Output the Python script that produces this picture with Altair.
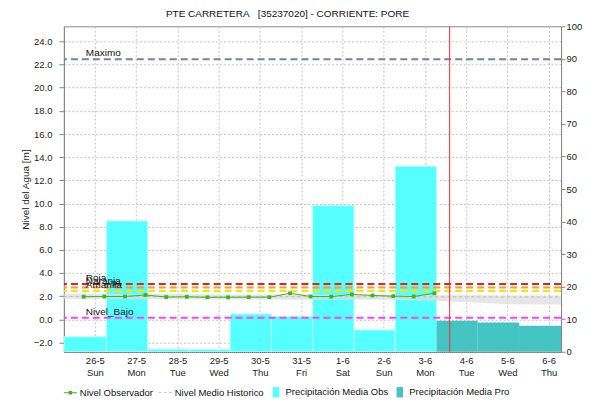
import altair as alt
import pandas as pd
import numpy as np

chart_title = "PTE CARRETERA\u00a0\u00a0\u00a0[35237020] - CORRIENTE: PORE"

# x ticks (days since 26-5)
tick_days = [0, 1, 2, 3, 4, 5, 6, 7, 8, 9, 10, 11]
day_labels = ["26-5", "27-5", "28-5", "29-5", "30-5", "31-5", "1-6", "2-6", "3-6", "4-6", "5-6", "6-6"]
weekday_labels = ["Sun", "Mon", "Tue", "Wed", "Thu", "Fri", "Sat", "Sun", "Mon", "Tue", "Wed", "Thu"]

# observed level (every 12 h)
obs_t = [-0.27, 0.23, 0.73, 1.23, 1.73, 2.23, 2.73, 3.23, 3.73, 4.23, 4.73, 5.23,
         5.73, 6.23, 6.73, 7.23, 7.73, 8.23]
obs_level = [1.95, 1.97, 1.97, 2.10, 1.92, 1.94, 1.90, 1.90, 1.91, 1.91, 2.25, 1.97,
             1.96, 2.15, 2.06, 2.00, 1.97, 2.25]

# historic mean level with band
hist_t = [-0.75, 0, 1, 2, 3, 4, 5, 6, 7, 8, 9, 10, 11.3]
hist_mid = [1.97, 1.97, 1.96, 1.96, 1.95, 1.95, 1.95, 1.95, 1.94, 1.94, 1.93, 1.92, 1.92]
hist_hi = [2.20, 2.20, 2.18, 2.18, 2.15, 2.15, 2.15, 2.12, 2.10, 2.10, 2.08, 2.05, 2.05]
hist_lo = [1.75, 1.75, 1.74, 1.74, 1.72, 1.72, 1.70, 1.70, 1.68, 1.62, 1.50, 1.30, 1.28]

# precipitation (right axis)
precip_start = [-0.75, 0.28, 1.28, 2.28, 3.28, 4.28, 5.28, 6.28, 7.28, 8.28, 9.28, 10.28]
precip_end = [0.28, 1.28, 2.28, 3.28, 4.28, 5.28, 6.28, 7.28, 8.28, 9.28, 10.28, 11.3]
precip_value = [4.6, 40.2, 0.8, 0.7, 11.6, 10.8, 44.9, 6.7, 57.0, 9.5, 9.0, 8.0]
precip_kind = ["Obs"] * 9 + ["Pro"] * 3

# thresholds
thr_name = ["Maximo", "Roja", "Naranja", "Amarilla", "Nivel_Bajo"]
thr_value = [22.45, 3.05, 2.75, 2.45, 0.13]
thr_color = ["#7481A8", "#E8201E", "#FF9A1E", "#F5E600", "#FF40FF"]

now_t = [8.6]

legend_names = ["Nivel Observador", "Nivel Medio Historico", "Precipitación Media Obs", "Precipitación Media Pro"]
legend_colors = ["#3CB521", "#BBBBBB", "#55FFFF", "#45C4C4"]
legend_shapes = [
    "M-1,-0.08H1V0.08H-1Z M-0.27,-0.27H0.27V0.27H-0.27Z",
    "M-1,-0.06H-0.6V0.06H-1Z M-0.2,-0.06H0.2V0.06H-0.2Z M0.6,-0.06H1V0.06H0.6Z",
    "M-0.5,-0.8H0.5V0.8H-0.5Z",
    "M-0.5,-0.8H0.5V0.8H-0.5Z",
]

df_obs = pd.DataFrame({"t": obs_t, "level": obs_level})
df_hist = pd.DataFrame({"t": hist_t, "mid": hist_mid, "hi": hist_hi, "lo": hist_lo})
df_pr = pd.DataFrame({"s": precip_start, "e": precip_end, "v": precip_value, "k": precip_kind})
df_thr = pd.DataFrame({"name": thr_name, "v": thr_value, "c": thr_color})
df_now = pd.DataFrame({"t": now_t})
df_leg = pd.DataFrame({"serie": legend_names, "t": [np.nan] * 4, "level": [np.nan] * 4})

FONT = "Liberation Sans"
label_expr = "[" + ",".join("['%s','%s']" % (d, w) for d, w in zip(day_labels, weekday_labels)) + "][datum.value]"

xscale = alt.Scale(domain=[-0.75, 11.3], nice=False, zero=False)
xaxis = alt.Axis(values=tick_days, labelExpr=label_expr, title=None, grid=True,
                 gridDash=[2, 2], gridColor="#C4C4C4", ticks=False, domainColor="#555555",
                 domainDash=[1, 1], labelFontSize=9.5, labelPadding=4, labelLineHeight=12,
                 labelColor="#222222")
yscale = alt.Scale(domain=[-2.8, 25.3], nice=False, zero=False)
yaxis = alt.Axis(values=list(range(-2, 25, 2)), format=".1f", title="Nivel del Agua [m]",
                 grid=True, gridDash=[2, 2], gridColor="#C4C4C4", tickSize=5,
                 labelPadding=7, titlePadding=3, domainColor="#888888", tickColor="#888888",
                 labelFontSize=9.5, titleFontSize=10, titleFontWeight="normal",
                 labelColor="#222222", titleColor="#222222")


def X(field):
    return alt.X(field, type="quantitative", scale=xscale, axis=xaxis)


def Y(field):
    return alt.Y(field, type="quantitative", scale=yscale, axis=yaxis)


# precipitation bars (right axis)
rscale = alt.Scale(domain=[0, 100], nice=False, zero=True)
raxis = alt.Axis(orient="right", values=list(range(0, 101, 10)), title=None, grid=False,
                 tickSize=4, labelPadding=1, domainColor="#888888", tickColor="#888888",
                 labelFontSize=9.5, labelColor="#222222")

bars_obs = alt.Chart(df_pr).transform_filter(alt.datum.k == "Obs").mark_rect(
    color="#55FFFF", stroke="#B5FFFF", strokeWidth=1, clip=True
).encode(x=X("s"), x2="e", y=alt.Y("v:Q", scale=rscale, axis=raxis), y2=alt.datum(0))
bars_pro = alt.Chart(df_pr).transform_filter(alt.datum.k == "Pro").mark_rect(
    color="#45C4C4", clip=True
).encode(x=X("s"), x2="e", y=alt.Y("v:Q", scale=rscale, axis=raxis), y2=alt.datum(0))
bars = alt.layer(bars_obs, bars_pro)

band = alt.Chart(df_hist).mark_area(color="#DEDEDE", opacity=0.75).encode(
    x=X("t"), y=Y("lo"), y2="hi")
hist_line = alt.Chart(df_hist).mark_line(color="#BBBBBB", strokeDash=[3, 3], strokeWidth=1).encode(
    x=X("t"), y=Y("mid"))
rules = alt.Chart(df_thr).mark_rule(strokeDash=[7, 4], strokeWidth=2).encode(
    y=Y("v"), color=alt.Color("c:N", scale=None))
texts = alt.Chart(df_thr).mark_text(align="left", baseline="bottom", dy=-1, fontSize=10,
                                    font=FONT, color="#111111").encode(
    x=alt.value(22), y=Y("v"), text="name:N")
now_rule = alt.Chart(df_now).mark_rule(color="#FF2A2A", strokeWidth=1).encode(x=X("t"))
obs_line = alt.Chart(df_obs).mark_line(color="#3CB521", strokeWidth=1).encode(x=X("t"), y=Y("level"))
obs_pts = alt.Chart(df_obs).mark_point(shape="square", filled=True, size=14, color="#3CB521",
                                       opacity=1).encode(x=X("t"), y=Y("level"))
leg = alt.Chart(df_leg).mark_point(filled=True, opacity=1).encode(
    x=X("t"), y=Y("level"),
    color=alt.Color("serie:N", scale=alt.Scale(domain=legend_names, range=legend_colors),
                    legend=alt.Legend(title=None)),
    shape=alt.Shape("serie:N", scale=alt.Scale(domain=legend_names, range=legend_shapes),
                    legend=alt.Legend(title=None)),
)

inner = alt.layer(band, hist_line, rules, texts, obs_line, obs_pts, now_rule, leg)

chart = alt.layer(bars, inner).resolve_scale(y="independent").properties(
    width=498, height=326,
    padding={"left": 12, "top": 1, "right": 0, "bottom": 0},
    title=alt.TitleParams(text=chart_title, fontSize=10, fontWeight="normal", font=FONT,
                          anchor="middle", dx=-25, offset=2, color="#111111"),
).configure_view(stroke="#888888").configure_axis(labelFont=FONT, titleFont=FONT).configure_legend(
    orient="bottom", direction="horizontal", labelFont=FONT, labelFontSize=9.5,
    symbolSize=169, symbolStrokeWidth=0, columnPadding=5, labelOffset=3, offset=8,
    labelColor="#111111", padding=0
)

chart.save("out.html", embed_options={"renderer": "svg", "actions": False})
